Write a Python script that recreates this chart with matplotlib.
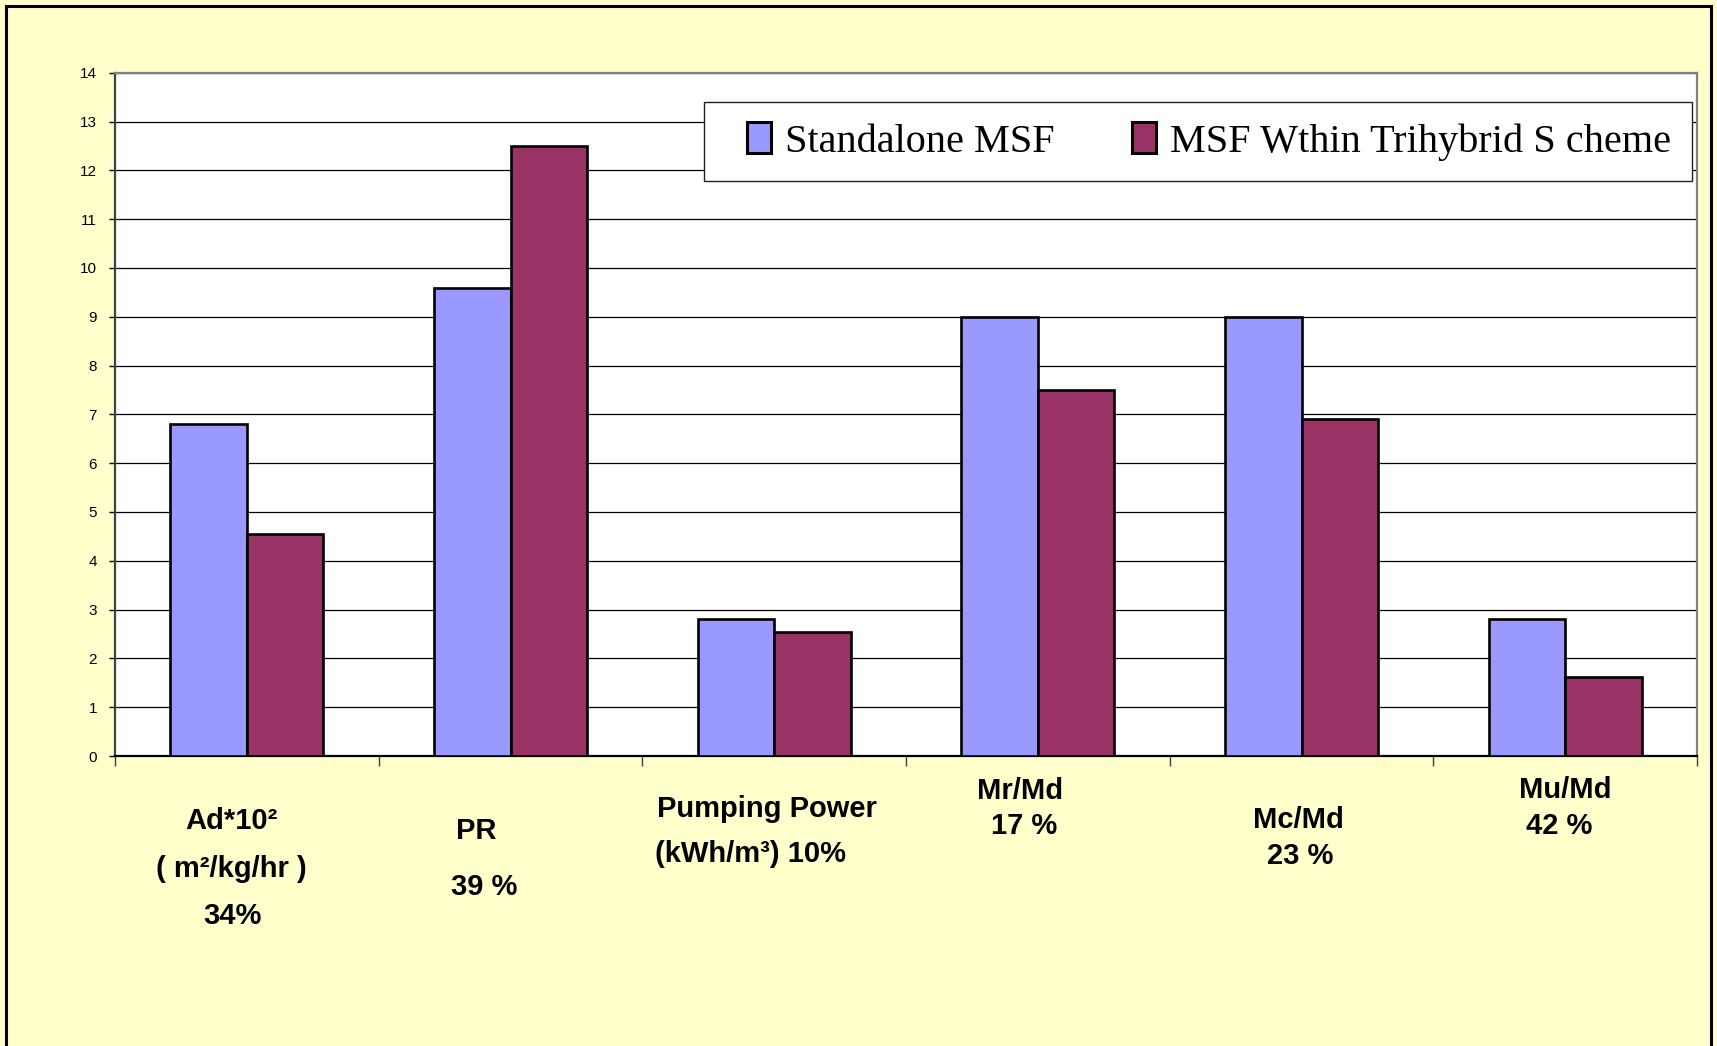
import matplotlib
matplotlib.use("Agg")
import matplotlib.pyplot as plt
from matplotlib.patches import Rectangle
from matplotlib.lines import Line2D
from matplotlib.transforms import blended_transform_factory
import numpy as np

# ---- data -------------------------------------------------------------
categories = ["Ad", "PR", "Pumping Power", "Mr/Md", "Mc/Md", "Mu/Md"]
standalone = [6.8, 9.58, 2.8, 9.0, 9.0, 2.8]
trihybrid = [4.55, 12.5, 2.54, 7.5, 6.9, 1.62]
series_names = ["Standalone MSF", "MSF Wthin Trihybrid S cheme"]
yticks = list(range(0, 15))

# category captions: (text, x in category units, baseline y in figure px from top)
captions = [
    ("Ad*10²", -0.06, 829),
    ("( m²/kg/hr )", -0.06, 877),
    ("34%", -0.056, 924),
    ("PR", 0.869, 839),
    ("39 %", 0.899, 895),
    ("Pumping Power", 1.973, 817),
    ("(kWh/m³) 10%", 1.912, 862),
    ("Mr/Md", 2.932, 799),
    ("17 %", 2.947, 834),
    ("Mc/Md", 3.990, 828),
    ("23 %", 3.994, 864),
    ("Mu/Md", 5.0, 798),
    ("42 %", 4.977, 834),
]

# ---- style ------------------------------------------------------------
W, H = 1717, 1046
BG = "#FFFFCC"
C_STD = "#9999FF"
C_TRI = "#993366"

fig = plt.figure(figsize=(W / 100, H / 100), dpi=100, facecolor=BG)
ax = fig.add_axes([115 / W, 1 - 756 / H, (1697 - 115) / W, (756 - 72.7) / H])
ax.set_facecolor("white")

x = np.arange(len(categories))
bw = 0.29
b1 = ax.bar(x - bw / 2, standalone, bw, color=C_STD, edgecolor="black",
            linewidth=1.9, zorder=3, label=series_names[0])
b2 = ax.bar(x + bw / 2, trihybrid, bw, color=C_TRI, edgecolor="black",
            linewidth=1.9, zorder=3, label=series_names[1])

ax.set_xlim(-0.5, len(categories) - 0.5)
ax.set_ylim(0, 14)
ax.set_yticks(yticks)
ax.set_yticklabels([str(v) for v in yticks],
                   family=["Liberation Sans Narrow", "Liberation Sans"],
                   fontsize=11)
ax.yaxis.grid(True, color="black", linewidth=0.9, zorder=1)
ax.set_axisbelow(True)
ax.tick_params(axis="y", length=4, width=1, pad=9, color="black")

# category boundary ticks on the x axis
ax.set_xticks(np.arange(-0.5, len(categories), 1.0))
ax.set_xticklabels([])
ax.tick_params(axis="x", length=7, width=1, color="#404040", direction="out")

for side in ("top", "right"):
    ax.spines[side].set_color("#808080")
    ax.spines[side].set_linewidth(1.6)
ax.spines["left"].set_color("#404040")
ax.spines["left"].set_linewidth(1.6)
ax.spines["bottom"].set_color("black")
ax.spines["bottom"].set_linewidth(1.6)

# category captions below the axis
trans = blended_transform_factory(ax.transData, fig.transFigure)
for txt, xc, ypx in captions:
    ax.text(xc, 1 - ypx / H, txt, transform=trans, ha="center", va="baseline",
            fontsize=21, fontweight="bold", family="Liberation Sans",
            color="black", clip_on=False)

# legend box
fig.add_artist(Rectangle((704 / W, 1 - 181 / H), (1692 - 704) / W, (181 - 102) / H,
                         transform=fig.transFigure, facecolor="white",
                         edgecolor="#202020", linewidth=1.0, zorder=5))
leg = fig.legend(handles=[b1, b2], labels=series_names, ncol=2,
                 loc="center", bbox_to_anchor=((704 + 1692) / 2 / W + 11 / W, 1 - 141.5 / H),
                 frameon=False, prop={"family": "Liberation Serif", "size": 29},
                 handlelength=0.6, handleheight=0.8, handletextpad=0.35,
                 columnspacing=1.9, borderpad=0.2)
leg.set_zorder(6)
for h in leg.legend_handles:
    h.set_linewidth(2.2)

# outer frame of the chart area
for xs, ys in [((6, 6), (H + 5, 6)), ((6, 1711), (6, 6)), ((1711, 1711), (6, H + 5))]:
    fig.add_artist(Line2D([v / W for v in xs], [1 - v / H for v in ys],
                          transform=fig.transFigure, color="black", linewidth=2.2))

fig.savefig("out.png", dpi=100, facecolor=BG)
